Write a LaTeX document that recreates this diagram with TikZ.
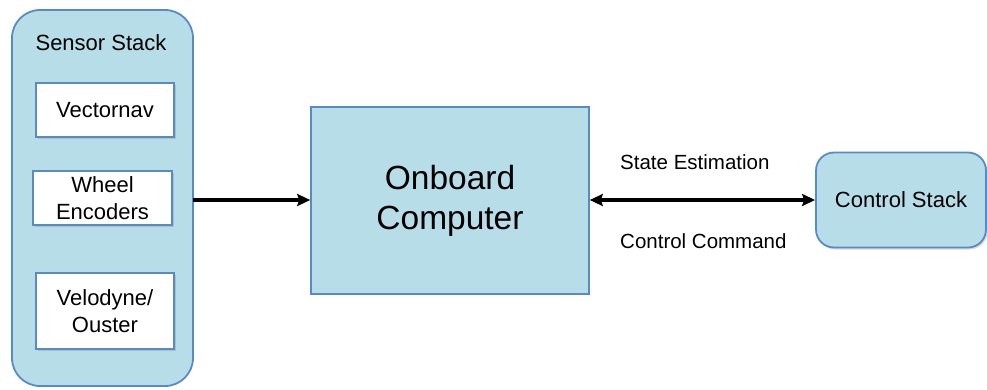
\documentclass[tikz,border=0pt]{standalone}
\usepackage{fontspec}
\setmainfont{Liberation Sans}
\usetikzlibrary{arrows.meta,shadows}
\definecolor{boxfill}{HTML}{B7DEE8}
\definecolor{boxline}{HTML}{5A8AC6}
\tikzset{
  panel/.style={draw=boxline, fill=boxfill, line width=1.8pt},
  sensor/.style={draw=boxline, fill=white, line width=1.6pt,
    drop shadow={opacity=0.3, shadow xshift=1.5pt, shadow yshift=-2pt}},
  lbl/.style={font=\fontsize{22}{27}\selectfont, align=center, inner sep=0pt},
  small/.style={font=\fontsize{20.5}{24}\selectfont, inner sep=0pt},
  link/.style={line width=3.4pt, black, >={Stealth[length=13pt,width=12pt,inset=2pt]}}
}
\begin{document}
\begin{tikzpicture}[x=1pt,y=-1pt]
\useasboundingbox (0,0) rectangle (987,389);

% sensor column
\draw[panel, rounded corners=28pt] (12,10) rectangle (193,386);
\node[lbl, anchor=base] (sstitle) at (101,50) {Sensor Stack};
\draw[sensor] (36,83) rectangle (174,137);
\node[lbl] (vn) at (105,110) {Vectornav};
\draw[sensor] (33,171) rectangle (172,225);
\node[lbl] (we) at (102.5,198) {Wheel\\Encoders};
\draw[sensor] (36,273) rectangle (174,349);
\node[lbl] (vo) at (105,311) {Velodyne/\\Ouster};
\coordinate (sout) at (193,200);

% onboard computer
\node[panel, line width=1.6pt, minimum width=278pt, minimum height=187pt,
      font=\fontsize{33.5}{40}\selectfont, align=center] (obc) at (450,200.5)
      {Onboard\\Computer};

% control stack
\node[panel, rounded corners=18pt, minimum width=170pt, minimum height=95pt,
      font=\fontsize{22}{27}\selectfont,
      drop shadow={opacity=0.3, shadow xshift=1.5pt, shadow yshift=-2pt}]
      (cs) at (901,200) {Control Stack};

% connectors
\draw[link, ->] (sout) -- (obc.west |- sout);
\draw[link, <->] (obc.east |- cs.west) -- (cs.west);

\node[small, anchor=west] (se) at (620,162) {State Estimation};
\node[small, anchor=west] (cc) at (620,241) {Control Command};
\end{tikzpicture}
\end{document}
